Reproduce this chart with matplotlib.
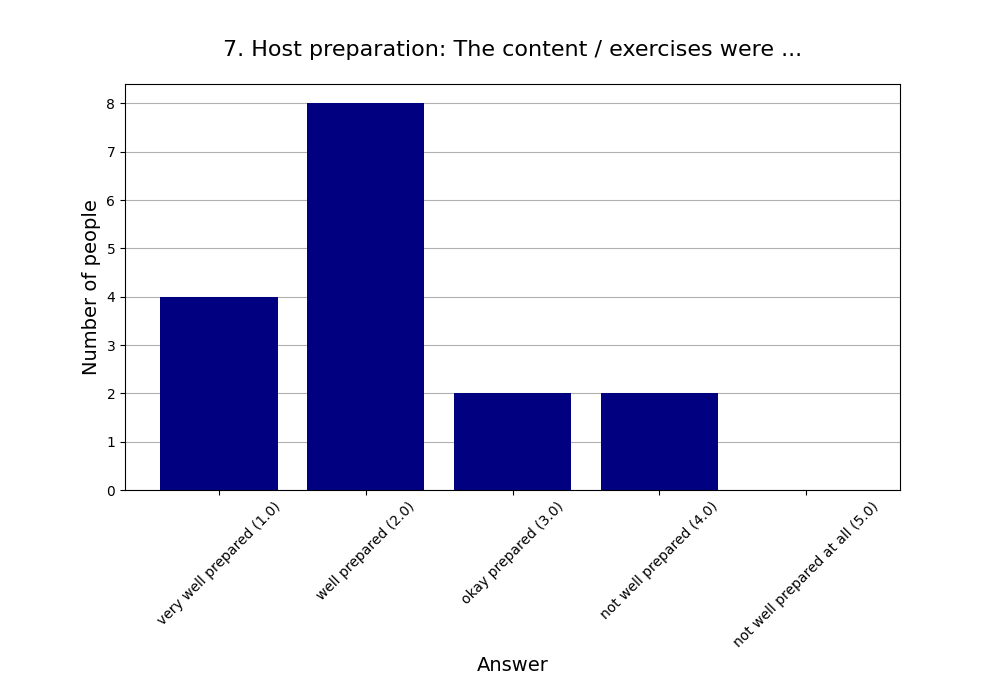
import matplotlib
matplotlib.use("Agg")
import matplotlib.pyplot as plt

categories = ["very well prepared (1.0)", "well prepared (2.0)", "okay prepared (3.0)",
              "not well prepared (4.0)", "not well prepared at all (5.0)"]
counts = [4, 8, 2, 2, 0]

fig = plt.figure(figsize=(10, 7), dpi=100)
ax = fig.add_axes([0.125, 0.3, 0.775, 0.58])
ax.set_axisbelow(True)
ax.grid(axis="y", color="#b0b0b0")
ax.bar(categories, counts, color="navy", width=0.8)
ax.set_title("7. Host preparation: The content / exercises were ...", fontsize=16, pad=20)
ax.set_xlabel("Answer", fontsize=14)
ax.set_ylabel("Number of people", fontsize=14)
plt.setp(ax.get_xticklabels(), rotation=45)
fig.savefig("out.png", dpi=100)
